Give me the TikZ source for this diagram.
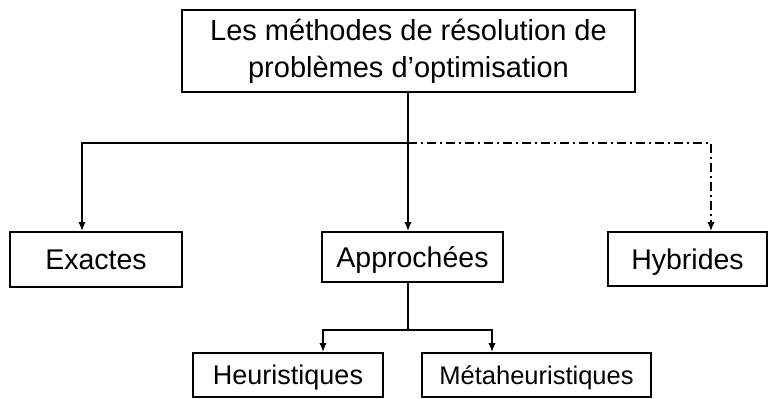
\documentclass[tikz,border=0pt]{standalone}
\usepackage{fontspec}
\setmainfont{Liberation Sans}
\usepackage{tikz}
\usetikzlibrary{arrows.meta, positioning}

\begin{document}
\begin{tikzpicture}[x=1pt, y=-1pt,
    boite/.style={draw, line width=1.8pt, inner sep=0pt, text height=22pt, text depth=1.6pt,
                  font=\fontsize{28.5}{34}\selectfont},
    fleche/.style={line width=1.8pt, -{Latex[length=9pt,width=7.5pt]}},
    mixte/.style={fleche, dash pattern=on 9pt off 4pt on 2pt off 4pt}]
    \useasboundingbox (0,0) rectangle (769,399);

    \node [draw, line width=1.8pt, minimum width=453pt, minimum height=82pt, align=center,
           font=\fontsize{29}{37}\selectfont] (methodes) at (408.5,51)
          {Les méthodes de résolution de\\problèmes d’optimisation};
    \node [boite, minimum width=172pt, minimum height=55pt] (exactes) at (96,259.5) {Exactes};
    \node [boite, minimum width=181pt, minimum height=50pt] (approchees) at (412.5,257) {Approchées};
    \node [boite, minimum width=159pt, minimum height=54pt] (hybrides) at (687.5,259) {Hybrides};
    \node [boite, minimum width=190pt, minimum height=44pt, text depth=2.7pt,
           font=\fontsize{27}{32}\selectfont] (heuristiques) at (288,375) {Heuristiques};
    \node [boite, minimum width=229pt, minimum height=44pt, text depth=3.7pt,
           font=\fontsize{25.5}{30}\selectfont] (meta) at (536.5,375) {Métaheuristiques};

    \coordinate (branche) at (408,143);
    \coordinate (fourche) at (408,330);

    % premier niveau
    \draw [fleche] (methodes.south -| branche) -- (approchees.north -| branche);
    \draw [fleche] (branche) -| ([xshift=-14pt]exactes.north);
    \draw [mixte] (branche) -| ([xshift=23.5pt]hybrides.north);

    % approchees
    \draw [line width=1.8pt] (approchees.south -| fourche) -- (fourche);
    \draw [fleche] (fourche) -| ([xshift=35pt]heuristiques.north);
    \draw [fleche] (fourche) -| ([xshift=-44.5pt]meta.north);
\end{tikzpicture}
\end{document}
